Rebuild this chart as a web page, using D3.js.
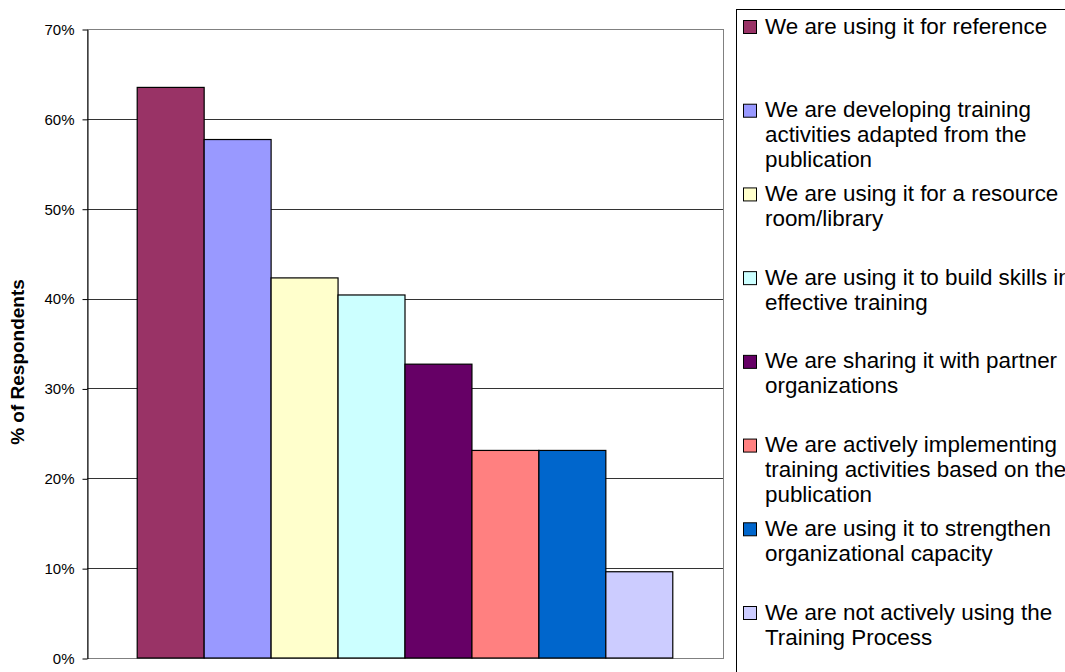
<!DOCTYPE html>
<html>
<head>
<meta charset="utf-8">
<script src="https://cdn.jsdelivr.net/npm/d3@7/dist/d3.min.js"></script>
<style>
  body { margin: 0; background: #fff; }
  svg { display: block; font-family: "Liberation Sans", Arial, sans-serif; }
</style>
</head>
<body>
<svg id="chart" width="1065" height="672"></svg>
<script>
// answers, in chart order
const categories = [
  "We are using it for reference",
  "We are developing training activities adapted from the publication",
  "We are using it for a resource room/library",
  "We are using it to build skills in effective training",
  "We are sharing it with partner organizations",
  "We are actively implementing training activities based on the publication",
  "We are using it to strengthen organizational capacity",
  "We are not actively using the Training Process"
];
// legend text as it wraps in the original
const legendLines = [
  ["We are using it for reference"],
  ["We are developing training", "activities adapted from the", "publication"],
  ["We are using it for a resource", "room/library"],
  ["We are using it to build skills in", "effective training"],
  ["We are sharing it with partner", "organizations"],
  ["We are actively implementing", "training activities based on the", "publication"],
  ["We are using it to strengthen", "organizational capacity"],
  ["We are not actively using the", "Training Process"]
];
const values = [0.635, 0.577, 0.423, 0.404, 0.327, 0.231, 0.231, 0.096];
const colors = ["#993366", "#9999FF", "#FFFFCC", "#CCFFFF", "#660066", "#FF8080", "#0066CC", "#CCCCFF"];
const yTicks = [0, 0.1, 0.2, 0.3, 0.4, 0.5, 0.6, 0.7];
const yTitle = "% of Respondents";

const svg = d3.select("#chart");

const plot = { left: 87, right: 723, top: 29, bottom: 658 };

const x = d3.scaleBand()
  .domain(categories)
  .range([plot.left, plot.right])
  .paddingInner(0)
  .paddingOuter(0.75);

const y = d3.scaleLinear()
  .domain([0, 0.7])
  .range([plot.bottom, plot.top]);

// plot area border
svg.append("rect")
  .attr("x", plot.left + 0.5)
  .attr("y", plot.top + 0.5)
  .attr("width", plot.right - plot.left)
  .attr("height", plot.bottom - plot.top)
  .attr("fill", "#fff")
  .attr("stroke", "#808080");

// gridlines
svg.append("g")
  .selectAll("line")
  .data(yTicks.filter(d => d > 0 && d < 0.7))
  .enter()
  .append("line")
  .attr("x1", plot.left)
  .attr("x2", plot.right)
  .attr("y1", d => Math.round(y(d)) + 0.5)
  .attr("y2", d => Math.round(y(d)) + 0.5)
  .attr("stroke", "#333");

// bars
svg.append("g")
  .selectAll("rect")
  .data(values)
  .enter()
  .append("rect")
  .attr("x", (d, i) => x(categories[i]))
  .attr("y", d => y(d))
  .attr("width", x.bandwidth())
  .attr("height", d => plot.bottom - y(d))
  .attr("fill", (d, i) => colors[i])
  .attr("stroke", "#000")
  .attr("stroke-width", 1.2);

// y axis
const yAxis = svg.append("g")
  .attr("transform", "translate(" + (plot.left + 0.5) + ",0.5)")
  .call(d3.axisLeft(y)
    .tickValues(yTicks)
    .tickFormat(d3.format(".0%"))
    .tickSize(5)
    .tickSizeOuter(0)
    .tickPadding(8));
yAxis.select(".domain").attr("stroke", "#000");
yAxis.selectAll(".tick line").attr("stroke", "#000");
yAxis.selectAll(".tick text")
  .attr("fill", "#000")
  .style("font-size", "15px")
  .style("font-family", "'Liberation Sans', Arial, sans-serif");

// axis title
svg.append("text")
  .attr("transform", "translate(24,362) rotate(-90)")
  .attr("text-anchor", "middle")
  .style("font-size", "19px")
  .style("font-weight", "bold")
  .text(yTitle);

// legend
const legendY = d3.scaleLinear().domain([0, 7]).range([33.5, 619.5]);
const lineH = 25;

svg.append("rect")
  .attr("x", 736.5)
  .attr("y", 9.5)
  .attr("width", 400)
  .attr("height", 700)
  .attr("fill", "#fff")
  .attr("stroke", "#000");

const items = svg.append("g")
  .selectAll("g")
  .data(legendLines)
  .enter()
  .append("g")
  .attr("transform", (d, i) => "translate(0," + legendY(i) + ")");

items.append("rect")
  .attr("x", 743.5)
  .attr("y", -13)
  .attr("width", 13)
  .attr("height", 13)
  .attr("fill", (d, i) => colors[i])
  .attr("stroke", "#000");

items.append("text")
  .style("font-size", "22.4px")
  .attr("fill", "#000")
  .selectAll("tspan")
  .data(d => d)
  .enter()
  .append("tspan")
  .attr("x", 765)
  .attr("y", (d, j) => j * lineH)
  .text(d => d);
</script>
</body>
</html>
